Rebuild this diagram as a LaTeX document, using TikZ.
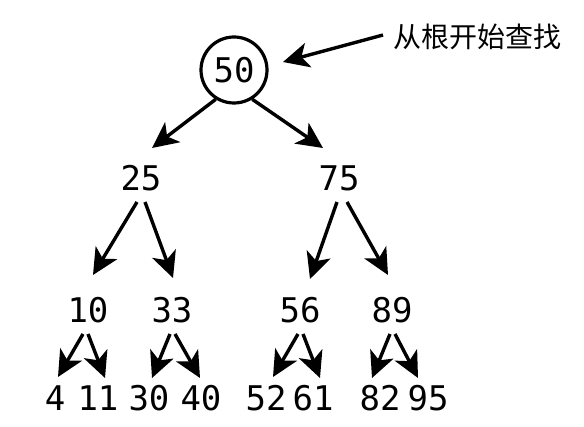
\documentclass[tikz,border=0pt]{standalone}
\usepackage{fontspec}
\setmonofont{DejaVu Sans Mono}
\newfontfamily\cjkfont{Noto Sans CJK SC}
\usetikzlibrary{arrows.meta,calc}
\begin{document}
\begin{tikzpicture}[x=1pt,y=-1pt,
  num/.style={inner sep=0pt,font=\ttfamily\fontsize{34}{38}\selectfont},
  root/.style={circle,draw,line width=3.2pt,minimum size=66pt,inner sep=0pt,font=\ttfamily\fontsize{34}{38}\selectfont},
  arr/.style={line width=3.4pt,-{Stealth[length=26pt,width=25pt,inset=7pt]}},
  note/.style={inner sep=0pt,anchor=west,font=\cjkfont\fontsize{28}{30}\selectfont}]
\useasboundingbox (0,0) rectangle (584,427);
\node[root] (n50) at (234,70) {50};
\node[note] (lbl) at (393,37) {从根开始查找};
\node[num] (n25) at (141,178) {25};
\node[num] (n75) at (339,178) {75};
\node[num] (n10) at (88,310) {10};
\node[num] (n33) at (172,310) {33};
\node[num] (n56) at (300,310) {56};
\node[num] (n89) at (392,310) {89};
\node[num] (n4) at (55,398) {4};
\node[num] (n11) at (98,398) {11};
\node[num] (n30) at (149,398) {30};
\node[num] (n40) at (201,398) {40};
\node[num] (n52) at (266,398) {52};
\node[num] (n61) at (313,398) {61};
\node[num] (n82) at (380,398) {82};
\node[num] (n95) at (428,398) {95};
% annotation
\draw[arr] ($(lbl.west)+(-10,-2)$) -- ($(n50.center)+(49,-8)$);
% level 1
\draw[arr] (n50.238) -- ($(n25.center)+(11,-30)$);
\draw[arr] (n50.302) -- ($(n75.center)+(-16,-30)$);
% level 2
\draw[arr] ($(n25.center)+(-4,24)$) -- ($(n10.center)+(5,-35)$);
\draw[arr] ($(n25.center)+(4,24)$) -- ($(n33.center)+(1,-32)$);
\draw[arr] ($(n75.center)+(-2,24)$) -- ($(n56.center)+(10,-31)$);
\draw[arr] ($(n75.center)+(8,24)$) -- ($(n89.center)+(-4,-35)$);
% level 3
\draw[arr] ($(n10.center)+(-5,24)$) -- ($(n4.center)+(3,-21)$);
\draw[arr] ($(n10.center)+(0,24)$) -- ($(n11.center)+(7,-20)$);
\draw[arr] ($(n33.center)+(-2,24)$) -- ($(n30.center)+(3,-20)$);
\draw[arr] ($(n33.center)+(3,24)$) -- ($(n40.center)+(-1,-20)$);
\draw[arr] ($(n56.center)+(-2,24)$) -- ($(n52.center)+(7,-21)$);
\draw[arr] ($(n56.center)+(3,24)$) -- ($(n61.center)+(7,-20)$);
\draw[arr] ($(n89.center)+(-2,24)$) -- ($(n82.center)+(-8,-20)$);
\draw[arr] ($(n89.center)+(3,24)$) -- ($(n95.center)+(-10,-20)$);
\end{tikzpicture}
\end{document}
